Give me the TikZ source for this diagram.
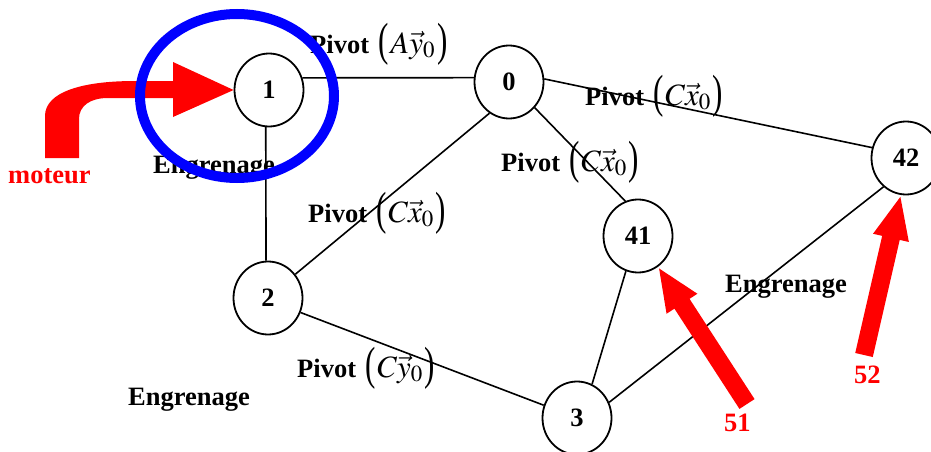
\documentclass[tikz,border=0pt]{standalone}
\usepackage{mathptmx}
\usepackage[no-math]{fontspec}
\usepackage{graphicx}
\setmainfont{Liberation Serif}
\usetikzlibrary{shapes.geometric,arrows.meta}

% tall thin parentheses around the axis/vector part
\newcommand{\lpar}{\raisebox{-2pt}{\scalebox{1}[1.5]{(}}}
\newcommand{\rpar}{\raisebox{-2pt}{\scalebox{1}[1.5]{)}}}
\newcommand{\liaison}[1]{\textbf{Pivot}\hspace{9pt}{\fontsize{31}{34}\selectfont\lpar\hspace{2pt}$#1$\hspace{2pt}\rpar}}

\tikzset{
  every node/.style={font=\fontsize{26.5}{30}\selectfont},
  piece/.style={ellipse, draw, line width=1.8pt, fill=white,
    minimum width=69pt, minimum height=73pt, inner sep=0pt,
    font=\fontsize{26.5}{30}\selectfont\bfseries},
  link/.style={line width=1.6pt},
  lbl/.style={anchor=base west, inner sep=0pt},
  redlbl/.style={lbl, text=red, font=\fontsize{26.5}{30}\selectfont\bfseries},
  effort/.style={red, line width=18pt, -{Triangle[width=33pt,length=44pt]}},
}

\begin{document}
\begin{tikzpicture}[x=1pt, y=-1pt]
\useasboundingbox (0,0) rectangle (931,452);

% parts of the mechanism
\node[piece] (n1)  at (269,90)  {1};
\node[piece] (n0)  at (509,82)  {0};
\node[piece] (n2)  at (268,298) {2};
\node[piece] (n41) at (638,236) {41};
\node[piece] (n42) at (906,158) {42};
\node[piece] (n3)  at (577,418) {3};

% links between parts
\draw[link] (n1.20)   -- (n0.173);
\draw[link] (n1.-95)  -- (n2.93);
\draw[link] (n0.-122) -- (n2.41);
\draw[link] (n0.-45)  -- (n41.110);
\draw[link] (n0.5)    -- (n42.163);
\draw[link] (n2.-24)  -- (n3.159);
\draw[link] (n41.-109) -- (n3.66);
\draw[link] (n3.26)   -- (n42.-128);

% link names
\node[lbl] (pA)  at (310,53)  {\liaison{A\vec{y}_0}};
\node[lbl] (pC1) at (585,105) {\liaison{C\vec{x}_0}};
\node[lbl] (pC2) at (501,171) {\liaison{C\vec{x}_0}};
\node[lbl] (pC3) at (308,222) {\liaison{C\vec{x}_0}};
\node[lbl] (pCy) at (297,377) {\liaison{C\vec{y}_0}};
\node[lbl] (e1)  at (153,173) {\textbf{Engrenage}};
\node[lbl] (e2)  at (128,405) {\textbf{Engrenage}};
\node[lbl] (e3)  at (725,292) {\textbf{Engrenage}};

% motor input and outputs
\fill[red] (45,158) -- (45,116) .. controls (45,92) and (82,81) .. (135,81)
  -- (173,81) -- (173,62) -- (n1.west) -- (173,117) -- (173,98) -- (108,98)
  .. controls (90,98) and (79,106) .. (79,119) -- (79,158) -- cycle;
\node[redlbl] (mot) at (8,183) {moteur};

\coordinate (t51) at (747,404);
\coordinate (t52) at (864,355);
\draw[effort] (t51) -- (n41.-57);
\draw[effort] (t52) -- (n42.-98);
\node[redlbl] (l51) at (724,431) {51};
\node[redlbl] (l52) at (854,383) {52};

% highlighted input part
\draw[blue, line width=10pt] (237,96) ellipse [x radius=97pt, y radius=82pt];
\end{tikzpicture}
\end{document}
